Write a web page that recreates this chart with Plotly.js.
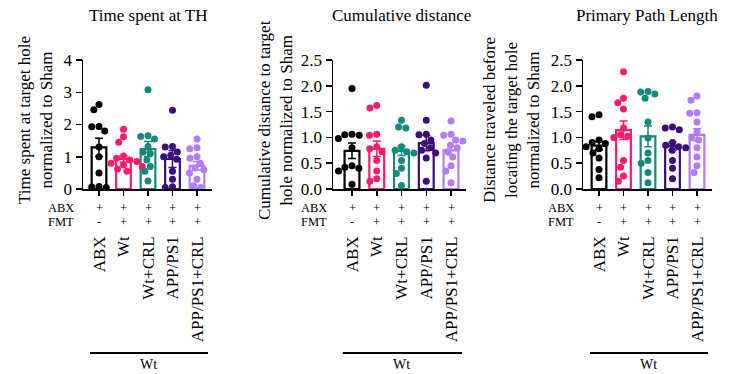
<!DOCTYPE html>
<html><head><meta charset="utf-8">
<script src="https://cdn.plot.ly/plotly-3.0.1.min.js"></script>
<style>body{margin:0;background:#fff;} #chart{width:732px;height:374px;}</style>
</head><body><div id="chart"></div>
<script>
// ---------- data ----------
const groups = ['ABX', 'Wt', 'Wt+CRL', 'APP/PS1', 'APP/PS1+CRL'];
const abxRow = ['+', '+', '+', '+', '+'];
const fmtRow = ['-', '+', '+', '+', '+'];
const rowLabels = ['ABX', 'FMT'];
const bracketLabel = 'Wt';
const colors = ['#000000', '#ff1a6e', '#16887e', '#3a0c7c', '#b27cfb'];

const panelTitles = ['Time spent at TH', 'Cumulative distance', 'Primary Path Length'];
const yTitles = [
  'Time spent at target hole<br>normalized to Sham',
  'Cumulative distance to target<br>hole normalized to Sham',
  'Distance traveled before<br>locating the target hole<br>normalized to Sham'
];
const yTickVals1 = [0, 1, 2, 3, 4];
const yTickVals23 = [0, 0.5, 1.0, 1.5, 2.0, 2.5];

// Panel 1: Time spent at TH
const timeMeans = [1.29, 0.93, 1.24, 0.93, 0.72];
const timeSem = [0.28, 0.10, 0.23, 0.26, 0.13];
const timeDots = [
  [2.62, 2.46, 1.94, 1.80, 1.93, 1.30, 1.00, 0.50, 0.08, 0.06, 0.05],
  [1.85, 1.62, 1.45, 1.02, 0.95, 0.90, 0.85, 0.80, 0.75, 0.70, 0.62, 0.55],
  [3.08, 1.63, 1.65, 1.55, 1.32, 1.15, 1.10, 0.90, 0.70, 0.55, 0.25],
  [2.44, 1.32, 1.30, 1.15, 1.05, 1.00, 0.92, 0.55, 0.30, 0.07, 0.05],
  [1.55, 1.28, 1.25, 1.00, 0.95, 0.80, 0.65, 0.60, 0.50, 0.30, 0.10, 0.05]
];

// Panel 2: Cumulative distance
const distMeans = [0.74, 0.78, 0.74, 0.89, 0.75];
const distSem = [0.15, 0.15, 0.09, 0.15, 0.09];
const distDots = [
  [1.95, 1.05, 1.06, 1.04, 0.98, 0.80, 0.45, 0.42, 0.40, 0.35, 0.09],
  [1.62, 1.57, 1.06, 1.04, 0.82, 0.78, 0.72, 0.55, 0.35, 0.20, 0.15],
  [1.33, 1.20, 1.18, 0.82, 0.75, 0.72, 0.70, 0.55, 0.40, 0.30, 0.07],
  [2.01, 1.33, 1.06, 1.05, 0.95, 0.88, 0.80, 0.75, 0.70, 0.60, 0.15],
  [1.32, 1.06, 1.04, 0.95, 0.93, 0.85, 0.80, 0.72, 0.62, 0.45, 0.35, 0.12]
];

// Panel 3: Primary path length
const pathMeans = [0.84, 1.14, 1.02, 0.83, 1.05];
const pathSem = [0.08, 0.18, 0.20, 0.08, 0.12];
const pathDots = [
  [1.44, 1.40, 0.95, 0.90, 0.88, 0.82, 0.78, 0.70, 0.60, 0.38, 0.22],
  [2.27, 1.76, 1.67, 1.55, 1.18, 1.05, 1.00, 1.02, 0.55, 0.42, 0.25, 0.15],
  [1.88, 1.89, 1.84, 1.76, 1.30, 0.99, 0.70, 0.55, 0.50, 0.32, 0.12],
  [1.20, 1.18, 1.15, 0.90, 0.85, 0.82, 0.80, 0.75, 0.55, 0.40, 0.20],
  [1.80, 1.72, 1.48, 1.47, 1.30, 1.10, 1.00, 0.95, 0.80, 0.62, 0.45, 0.32]
];

// ---------- layout helpers ----------
const W = 732, H = 374;
const FONT = 'Liberation Serif';
const plotTop = 60, plotBottom = 189;
const ydom = [1 - plotBottom / H, 1 - plotTop / H];
const panels = [
  {means: timeMeans, sem: timeSem, dots: timeDots, ymax: 4, ticks: yTickVals1, fmt: 'd', x0: 83, x1: 212, c0: 99, c4: 197, tx: 148, ytx: 36},
  {means: distMeans, sem: distSem, dots: distDots, ymax: 2.5, ticks: yTickVals23, fmt: '.1f', x0: 333, x1: 466, c0: 352, c4: 451, tx: 401, ytx: 276},
  {means: pathMeans, sem: pathSem, dots: pathDots, ymax: 2.5, ticks: yTickVals23, fmt: '.1f', x0: 583, x1: 712, c0: 599, c4: 697, tx: 647, ytx: 512}
];
const DOT = 7;

// simple deterministic beeswarm: returns x offsets (pixels)
function swarm(vals, pxPerY) {
  const order = vals.map((v, i) => i).sort((a, b) => vals[b] - vals[a]);
  const placed = [];
  const off = new Array(vals.length).fill(0);
  const d = DOT + 0.3;
  for (const i of order) {
    const y = vals[i] * pxPerY;
    const cands = [0];
    for (const p of placed) {
      const dy = Math.abs(p.y - y);
      if (dy < d) {
        const dx = Math.sqrt(d * d - dy * dy);
        cands.push(p.x - dx, p.x + dx);
      }
    }
    cands.sort((a, b) => Math.abs(a) - Math.abs(b) || a - b);
    let chosen = 0;
    for (const cx of cands) {
      let ok = true;
      for (const p of placed) {
        const dx = p.x - cx, dy = p.y - y;
        if (dx * dx + dy * dy < d * d - 0.01) { ok = false; break; }
      }
      if (ok) { chosen = cx; break; }
    }
    placed.push({x: chosen, y: y});
    off[i] = chosen;
  }
  return off;
}

const traces = [];
const txtFont = (s) => ({family: FONT, size: s, color: '#000'});
const layout = {
  width: W, height: H,
  margin: {l: 0, r: 0, t: 0, b: 0},
  paper_bgcolor: '#ffffff', plot_bgcolor: 'rgba(0,0,0,0)',
  showlegend: false,
  barmode: 'overlay',
  font: txtFont(17),
  annotations: [], shapes: []
};

panels.forEach((p, k) => {
  const sfx = k === 0 ? '' : String(k + 1);
  const xa = 'x' + sfx, ya = 'y' + sfx;
  const pxPerCat = (p.c4 - p.c0) / 4;
  const xr = [(p.x0 - p.c0) / pxPerCat, 4 + (p.x1 - p.c4) / pxPerCat];
  const pxPerY = (plotBottom - plotTop) / p.ymax;

  layout['xaxis' + sfx] = {
    domain: [p.x0 / W, p.x1 / W], range: xr, anchor: ya,
    tickmode: 'array', tickvals: [0, 1, 2, 3, 4], ticktext: groups,
    tickangle: -90, ticks: 'outside', ticklen: 5, tickwidth: 1.5, tickcolor: '#000',
    showline: true, linewidth: 1.5, linecolor: '#000',
    showgrid: false, zeroline: false, fixedrange: true,
    ticklabelstandoff: 34,
    tickfont: txtFont(17)
  };
  layout['yaxis' + sfx] = {
    domain: ydom, range: [0, p.ymax], anchor: xa,
    tickmode: 'array', tickvals: p.ticks, tickformat: p.fmt,
    ticks: 'outside', ticklen: 6, tickwidth: 1.5, tickcolor: '#000',
    showline: true, linewidth: 1.5, linecolor: '#000',
    showgrid: false, zeroline: false, fixedrange: true,
    tickfont: txtFont(17)
  };

  // bars
  groups.forEach((g, i) => {
    traces.push({
      type: 'bar', x: [i], y: [p.means[i]], width: 0.6, xaxis: xa, yaxis: ya,
      marker: {color: '#ffffff', line: {color: colors[i], width: 2.2}},
      error_y: {type: 'data', array: [p.sem[i]], visible: true, color: colors[i], thickness: 1.5, width: 4},
      hoverinfo: 'skip'
    });
  });
  // dots
  groups.forEach((g, i) => {
    const off = swarm(p.dots[i], pxPerY);
    traces.push({
      type: 'scatter', mode: 'markers', xaxis: xa, yaxis: ya,
      x: off.map(o => i + o / pxPerCat), y: p.dots[i],
      marker: {color: colors[i], size: DOT, line: {width: 0}},
      cliponaxis: false, hoverinfo: 'skip'
    });
  });

  // panel title
  layout.annotations.push({text: panelTitles[k], xref: 'paper', yref: 'paper', x: p.tx / W, y: 1 - 15 / H,
    xanchor: 'center', yanchor: 'middle', showarrow: false, font: txtFont(17)});
  // y title
  layout.annotations.push({text: yTitles[k], xref: 'paper', yref: 'paper', x: p.ytx / W, y: 1 - 120 / H,
    xanchor: 'center', yanchor: 'middle', textangle: -90, showarrow: false, font: txtFont(17)});
  // treatment rows
  [abxRow, fmtRow].forEach((row, r) => {
    const ypix = 208 + r * 14;
    layout.annotations.push({text: rowLabels[r], xref: 'paper', yref: 'paper', x: (p.c0 - 0.93 * pxPerCat) / W, y: 1 - ypix / H,
      xanchor: 'right', yanchor: 'middle', showarrow: false, font: txtFont(12.5)});
    row.forEach((s, i) => {
      layout.annotations.push({text: s, xref: 'paper', yref: 'paper', x: (p.c0 + i * pxPerCat) / W, y: 1 - ypix / H,
        xanchor: 'center', yanchor: 'middle', showarrow: false, font: txtFont(12.5)});
    });
  });
  // bracket
  layout.shapes.push({type: 'line', xref: xa, yref: 'paper', x0: -0.37, x1: 4.45, y0: 1 - 353 / H, y1: 1 - 353 / H,
    line: {color: '#000', width: 2}});
  layout.annotations.push({text: bracketLabel, xref: xa, yref: 'paper', x: 2, y: 1 - 364 / H,
    xanchor: 'center', yanchor: 'middle', showarrow: false, font: txtFont(14)});
});

Plotly.newPlot('chart', traces, layout, {staticPlot: true, displayModeBar: false});
</script>
</body></html>
